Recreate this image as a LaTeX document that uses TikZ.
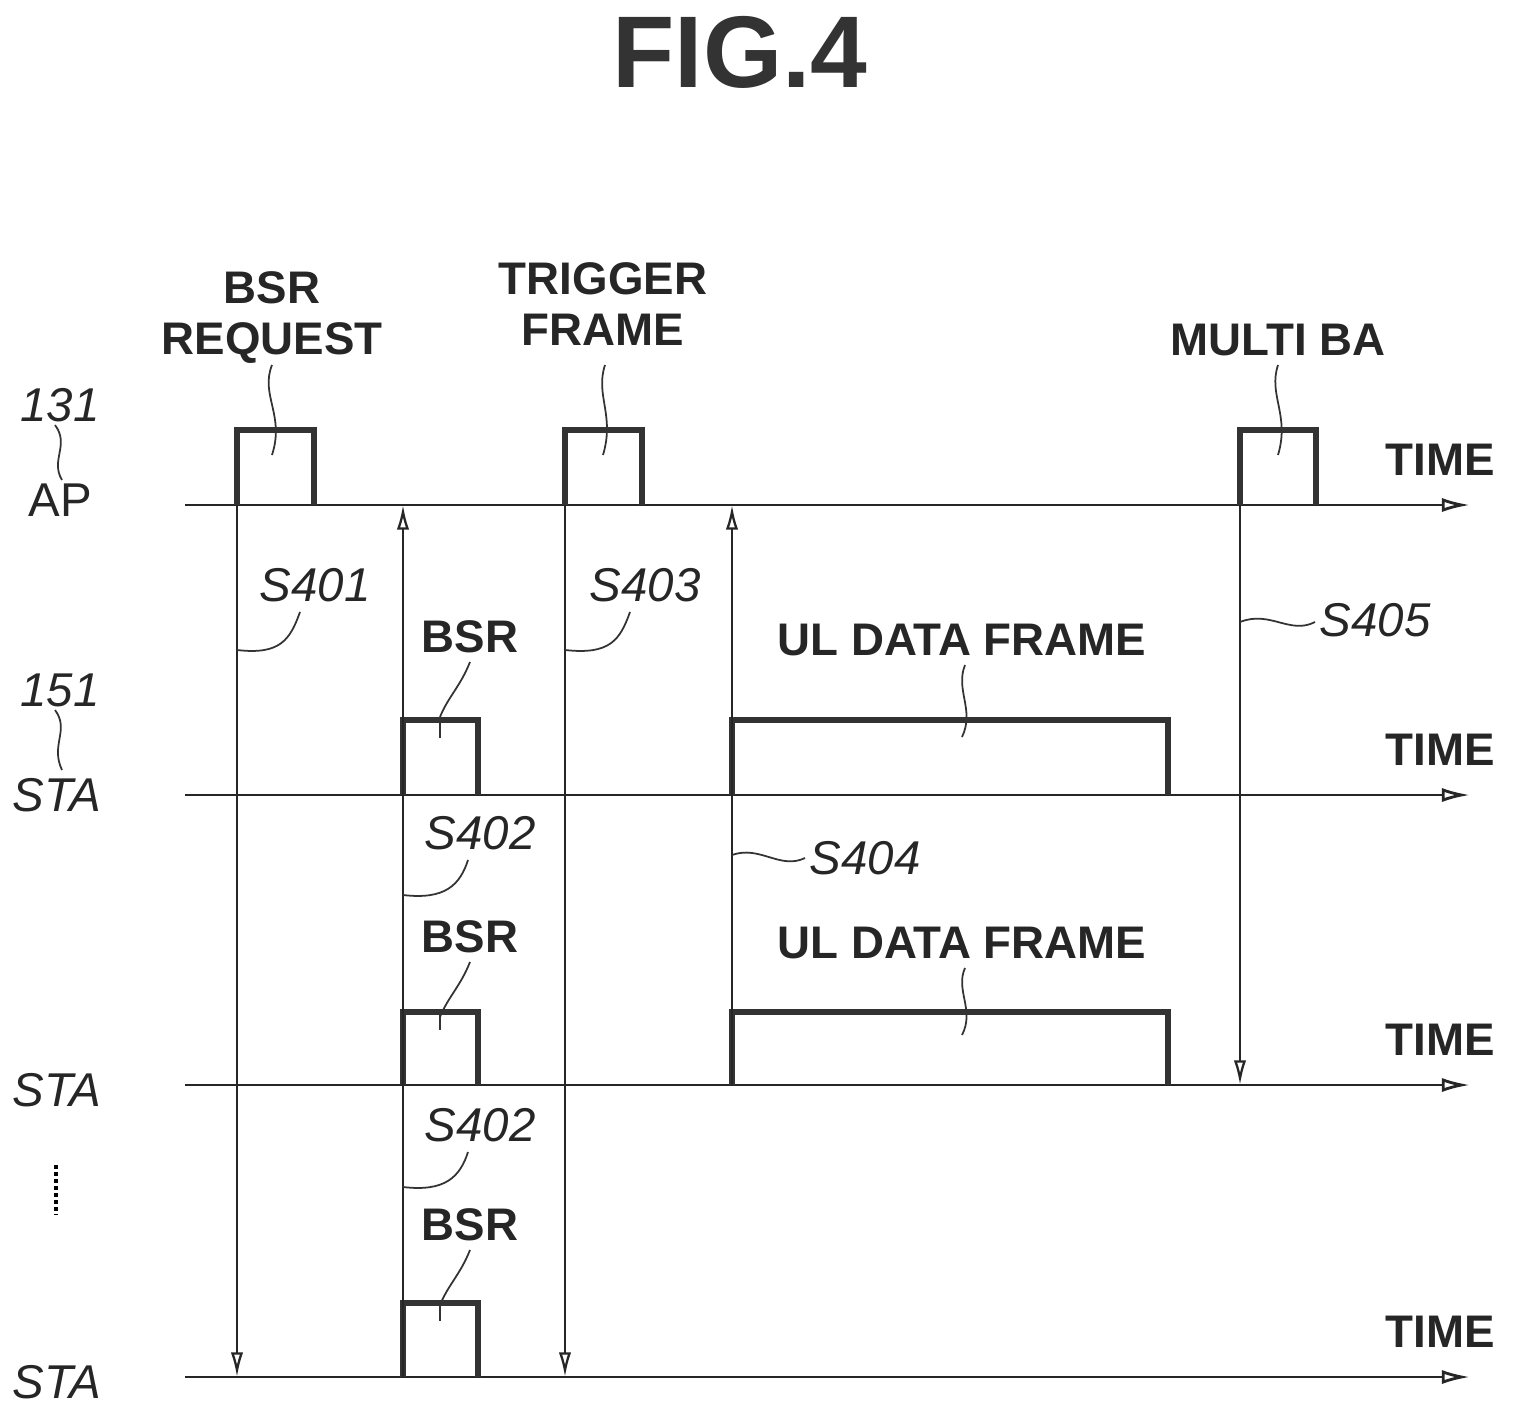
\documentclass[tikz,border=0pt]{standalone}
\usepackage{fontspec}
\setmainfont{Liberation Sans}
\usetikzlibrary{arrows.meta}
\begin{document}
\begin{tikzpicture}[x=0.02cm,y=-0.02cm,
 line/.style={line width=1.6pt,draw=black!85},
 pulse/.style={line width=3pt,draw=black!80},
 arr/.style={line width=1.3pt,draw=black!85,-{Latex[length=14pt,width=7pt,open]}},
 lbl/.style={font=\fontsize{26}{29}\selectfont\bfseries,align=center,text=black!85},
 ilbl/.style={font=\fontsize{27}{29}\selectfont\itshape,text=black!85},
 lead/.style={line width=1pt,draw=black!80}]
\useasboundingbox (0,0) rectangle (1517,1419);
\node[font=\fontsize{58}{60}\selectfont\bfseries,text=black!80] (title) at (740,52) {FIG.4};
% axes
\foreach \n/\y in {ap/505,s1/795,s2/1085,s3/1377}{
 \coordinate (\n L) at (185,\y); \coordinate (\n R) at (1470,\y);
 \draw[line,-{Latex[length=16pt,width=8pt,open]}] (\n L) -- (\n R);
 \node[lbl] (t\n) at (1440,\y-45) {TIME};
}
% left labels
\node[lbl,font=\fontsize{27}{29}\selectfont] (apl) at (60,500) {AP};
\node[ilbl] (n131) at (60,405) {131};
\draw[lead] (55,425) .. controls (70,445) and (50,460) .. (62,480);
\node[ilbl] (sta1) at (57,795) {STA};
\node[ilbl] (n151) at (60,690) {151};
\draw[lead] (55,710) .. controls (70,730) and (50,745) .. (62,770);
\node[ilbl] (sta2) at (57,1090) {STA};
\draw[line width=2pt,dotted] (56,1165) -- (56,1215);
\node[ilbl] (sta3) at (57,1382) {STA};
% AP pulses
\draw[pulse] (237,505) |- (314,430) -- (314,505);
\draw[pulse] (565,505) |- (642,430) -- (642,505);
\draw[pulse] (1240,505) |- (1316,430) -- (1316,505);
\node[lbl] (bsrreq) at (272,318) {BSR\\REQUEST};
\node[lbl] (trig) at (603,304) {TRIGGER\\FRAME};
\node[lbl] (mba) at (1278,340) {MULTI BA};
\draw[lead] (272,365) .. controls (260,395) and (285,415) .. (272,455);
\draw[lead] (605,365) .. controls (595,395) and (615,415) .. (603,455);
\draw[lead] (1278,365) .. controls (1268,395) and (1290,415) .. (1278,455);
% STA pulses
\foreach \t/\b in {720/795,1012/1085,1303/1377}{
 \draw[pulse] (403,\b) |- (478,\t) -- (478,\b);
 \draw[lead] (440,\t) -- (440,\t+18);
}
\draw[pulse] (732,795) |- (1168,720) -- (1168,795);
\draw[pulse] (732,1085) |- (1168,1012) -- (1168,1085);
% vertical arrows
\draw[arr] (237,505) -- (237,1377);
\draw[arr] (403,1377) -- (403,505);
\draw[arr] (565,505) -- (565,1377);
\draw[arr] (732,1085) -- (732,505);
\draw[arr] (1240,505) -- (1240,1085);
% step labels
\node[ilbl] (s401) at (315,585) {S401};
\draw[lead] (237,650) .. controls (280,655) and (290,640) .. (300,612);
\node[ilbl] (s403) at (645,585) {S403};
\draw[lead] (565,650) .. controls (610,655) and (620,640) .. (630,612);
\node[ilbl] (s405) at (1375,620) {S405};
\draw[lead] (1240,622) .. controls (1270,610) and (1290,635) .. (1315,622);
\node[ilbl] (s404) at (865,858) {S404};
\draw[lead] (732,855) .. controls (760,845) and (780,870) .. (805,858);
\node[ilbl] (s402a) at (480,833) {S402};
\draw[lead] (403,895) .. controls (445,900) and (460,885) .. (468,860);
\node[ilbl] (s402b) at (480,1125) {S402};
\draw[lead] (403,1187) .. controls (445,1192) and (460,1177) .. (468,1152);
\foreach \y/\n in {637/b1,937/b2,1225/b3}{
 \node[lbl] (bsr\n) at (470,\y) {BSR};
 \draw[lead] (470,\y+25) .. controls (460,\y+50) and (448,\y+60) .. (440,\y+80);
}
\node[lbl] (ul1) at (962,640) {UL DATA FRAME};
\node[lbl] (ul2) at (962,943) {UL DATA FRAME};
\draw[lead] (965,665) .. controls (955,690) and (975,710) .. (962,737);
\draw[lead] (965,968) .. controls (955,990) and (975,1010) .. (962,1035);
\end{tikzpicture}
\end{document}
